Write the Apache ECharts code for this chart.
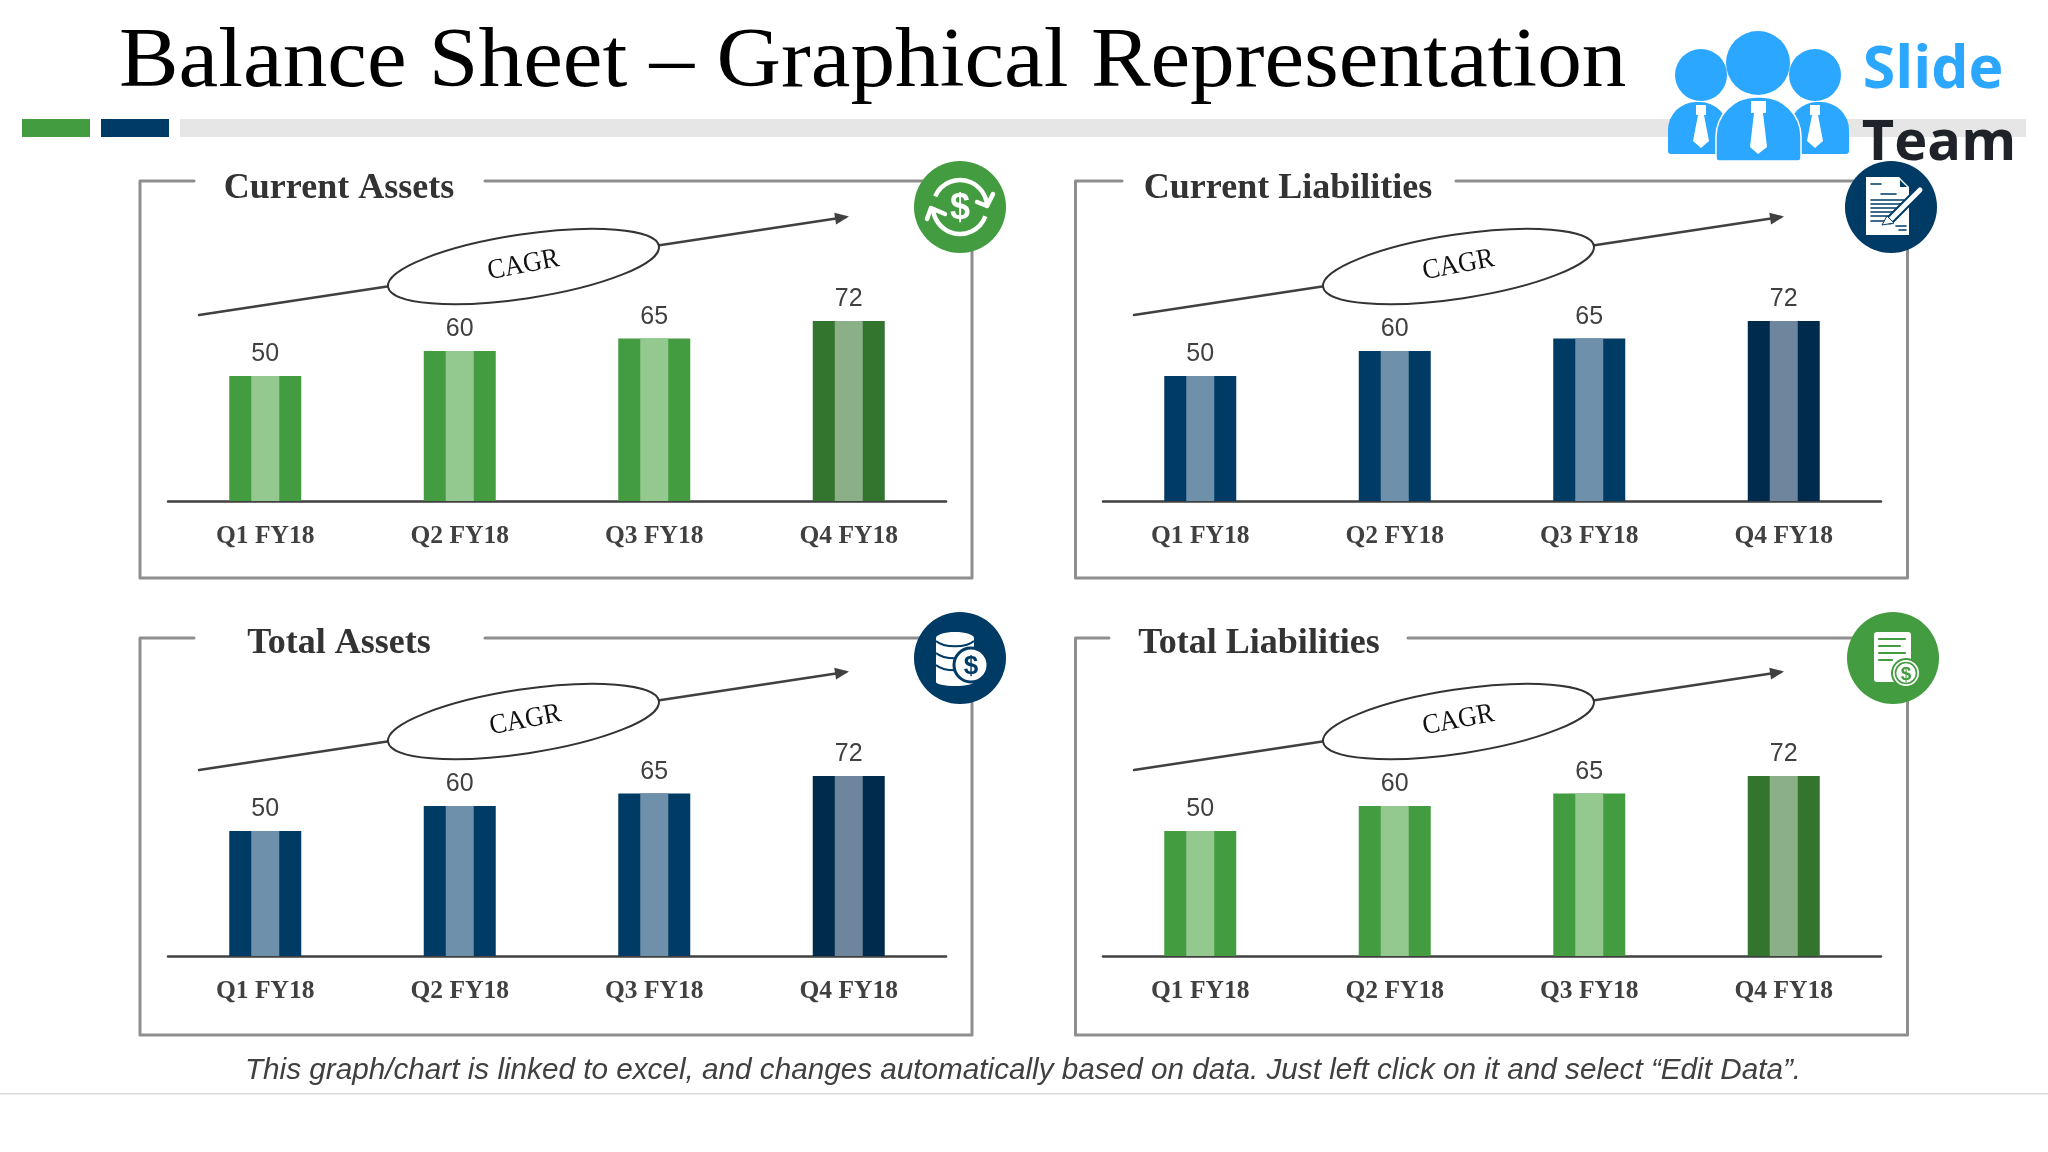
<!DOCTYPE html>
<html>
<head>
<meta charset="utf-8">
<title>Balance Sheet</title>
<script src="https://cdn.jsdelivr.net/npm/echarts@6/dist/echarts.min.js"></script>
<style>
  html, body { margin: 0; padding: 0; background: #fff; }
  #chart { width: 2048px; height: 1152px; }
</style>
</head>
<body>
<div id="chart"></div>
<script>
const quarters = ["Q1 FY18", "Q2 FY18", "Q3 FY18", "Q4 FY18"];
const currentAssets = [50, 60, 65, 72];
const currentLiabilities = [50, 60, 65, 72];
const totalAssets = [50, 60, 65, 72];
const totalLiabilities = [50, 60, 65, 72];
const panelTitles = ["Current Assets", "Current Liabilities", "Total Assets", "Total Liabilities"];

const GREEN = { main: "#439C3F", light: "#93C88F", last: "#33752E", lastLight: "#8BB087" };
const NAVY = { main: "#003B66", light: "#6E90AA", last: "#012B4C", lastLight: "#6D869E" };
const INK = "#404040";
const SERIF = "Liberation Serif";
const SANS = "Liberation Sans";

const panelSeries = [currentAssets, currentLiabilities, totalAssets, totalLiabilities];
const panelColors = [GREEN, NAVY, NAVY, GREEN];
const dx = [0, 935, 0, 935];
const dy = [0, 0, 455, 455];
const frameY = [181, 181, 638, 638];
const frameH = 397;
const gaps = [[194, 485], [1122, 1456], [194, 485], [1109, 1408]];
const titleX = [339, 1288, 339, 1259];
const titleY = [207, 207, 662, 662];
const cagrShift = [0, 0, 2, 0];

const chart = echarts.init(document.getElementById("chart"));

function text(str, x, y, font, fill, extra) {
  return Object.assign({
    type: "text", x, y,
    style: { text: str, font, fill, align: "center", verticalAlign: "bottom", textAlign: "center", textVerticalAlign: "bottom" },
  }, extra);
}

function stroke(points, color, width) {
  return { type: "polyline", shape: { points }, style: { stroke: color, lineWidth: width, fill: null, lineCap: "round", lineJoin: "round" } };
}

function frame(i) {
  const l = 140 + (i % 2) * 935.5, r = 972 + (i % 2) * 935.5, t = frameY[i], b = t + frameH;
  return [
    stroke([[gaps[i][0], t], [l, t], [l, b], [r, b], [r, t], [gaps[i][1], t]], "#8E8E90", 3),
  ];
}

function cagr(i) {
  return {
    type: "group", x: dx[i], y: dy[i],
    children: [
      stroke([[199, 315], [846, 217]], INK, 2.5),
      { type: "polygon", x: 849, y: 216.5, rotation: 0.15, shape: { points: [[0, 0], [-14, -6], [-14, 6]] }, style: { fill: INK } },
      { type: "ellipse", x: 523.5, y: 266.5, rotation: 0.15, shape: { cx: 0, cy: 0, rx: 137, ry: 32 }, style: { fill: "#fff", stroke: "#333", lineWidth: 2 } },
      text("CAGR", 526 + cagrShift[i], 279, "28px " + SERIF, "#111", { rotation: 0.19, scaleX: 0.93 }),
    ],
  };
}

function disc(cx, cy, r, fill, line, lw) {
  return { type: "circle", shape: { cx, cy, r }, style: { fill, stroke: line || null, lineWidth: lw || 0 } };
}

function iconSwap(cx, cy) {
  const ring = (a, b) => ({ type: "arc", shape: { cx: 0, cy: 0, r: 27, startAngle: a, endAngle: b, clockwise: true }, style: { stroke: "#fff", lineWidth: 4.5, fill: null } });
  return {
    type: "group", x: cx, y: cy,
    children: [
      disc(0, 0, 46, GREEN.main),
      ring(3.55, 6.2),
      ring(0.35, 3.1),
      stroke([[17, -5], [27, -1], [33, -13]], "#fff", 4.5),
      stroke([[-15, 7], [-29, 1], [-33, 12]], "#fff", 4.5),
      text("$", 0, 20, "bold 36px " + SANS, "#fff"),
    ],
  };
}

function iconContract(cx, cy) {
  const rows = [[-20, -10, -23], [-10, 5, -13], [-20, 13, -7], [-20, 10, -3], [-20, 8, 1], [-20, 6, 5], [-20, 1, 9], [-20, -7, 14], [5, 15, 19], [8, 15, 23]];
  return {
    type: "group", x: cx, y: cy,
    children: [
      disc(0, 0, 46, NAVY.main),
      { type: "polygon", shape: { points: [[-25, -30], [8, -30], [18, -20], [18, 28], [-25, 28]] }, style: { fill: "#fff" } },
      { type: "polygon", shape: { points: [[9, -27], [16, -20], [9, -20]] }, style: { fill: NAVY.main } },
    ].concat(rows.map((r) => stroke([[r[0], r[2]], [r[1], r[2]]], NAVY.main, 1.6))).concat([
      stroke([[-1, 13], [28, -16]], NAVY.main, 9),
      stroke([[0, 12], [29, -17]], "#fff", 5),
      { type: "polygon", shape: { points: [[-4, 9], [3, 16], [-9, 18]] }, style: { fill: "#fff", stroke: NAVY.main, lineWidth: 1 } },
    ]),
  };
}

function iconCoins(cx, cy) {
  const seam = (y) => ({ type: "bezierCurve", shape: { x1: -24, y1: y, x2: 14, y2: y, cpx1: -16, cpy1: y + 7, cpx2: 6, cpy2: y + 7 }, style: { stroke: NAVY.main, lineWidth: 2, fill: null } });
  return {
    type: "group", x: cx, y: cy,
    children: [
      disc(0, 0, 46, NAVY.main),
      { type: "rect", shape: { x: -24, y: -20, width: 38, height: 44 }, style: { fill: "#fff" } },
      { type: "ellipse", shape: { cx: -5, cy: -20, rx: 19, ry: 6 }, style: { fill: "#fff" } },
      { type: "ellipse", shape: { cx: -5, cy: 24, rx: 19, ry: 4 }, style: { fill: "#fff" } },
      seam(-17), seam(-5), seam(7),
      disc(11, 7, 17, "#fff", NAVY.main, 3),
      text("$", 11, 22, "bold 26px " + SANS, NAVY.main),
    ],
  };
}

function iconStatement(cx, cy) {
  const rows = [[-14, 12, -19], [-14, 7, -12], [-14, 12, -5], [-14, -1, 2]];
  return {
    type: "group", x: cx, y: cy,
    children: [
      disc(0, 0, 46, GREEN.main),
      { type: "rect", shape: { x: -19, y: -26, width: 37, height: 50, r: 3 }, style: { fill: "#fff" } },
    ].concat(rows.map((r) => stroke([[r[0], r[2]], [r[1], r[2]]], GREEN.main, 2.2))).concat([
      disc(13, 15, 15, GREEN.main),
      disc(13, 15, 13, "#fff"),
      disc(13, 15, 10.5, "#fff", GREEN.main, 1.6),
      text("$", 13, 26, "bold 19px " + SANS, GREEN.main),
    ]),
  };
}

function logo() {
  const BLUE = "#2CA7FF";
  const body = (x, y, w, h, r, line) => ({ type: "rect", shape: { x, y, width: w, height: h, r: [r, r, 3, 3] }, style: { fill: BLUE, stroke: line || null, lineWidth: line ? 1.5 : 0 } });
  const tie = (points) => ({ type: "polygon", shape: { points }, style: { fill: "#fff" } });
  return [
    disc(1701, 75, 26, BLUE),
    disc(1815, 75, 26, BLUE),
    disc(1758, 63, 32, BLUE),
    body(1668, 102, 60, 52, 28),
    body(1789, 102, 60, 52, 28),
    body(1716, 97, 85, 64, 40, "#fff"),
    tie([[1696, 105], [1706, 105], [1706, 115], [1704, 115], [1709, 141], [1701, 148], [1693, 141], [1698, 115], [1696, 115]]),
    tie([[1810, 105], [1820, 105], [1820, 115], [1818, 115], [1823, 141], [1815, 148], [1807, 141], [1812, 115], [1810, 115]]),
    tie([[1751, 101], [1766, 101], [1766, 113], [1763, 113], [1767, 147], [1758, 154], [1750, 147], [1754, 113], [1751, 113]]),
    text("Slide", 1933, 101, "bold 59px Open Sans", BLUE),
    text("Team", 1939, 172, "bold 56px Open Sans", "#1F2329"),
  ];
}

const grids = [], xAxes = [], yAxes = [], series = [];
panelSeries.forEach((values, i) => {
  const pal = panelColors[i];
  grids.push({ left: 168 + dx[i], width: 778, top: 301 + dy[i], height: 200 });
  yAxes.push({ gridIndex: i, type: "value", min: 0, max: 80, show: false });
  xAxes.push({
    gridIndex: i, type: "category", data: quarters,
    axisLine: { lineStyle: { color: INK, width: 2.5 } },
    axisTick: { show: false },
    axisLabel: { color: INK, fontFamily: SERIF, fontWeight: "bold", fontSize: 25.5, margin: 22 },
  });
  xAxes.push({ gridIndex: i, type: "category", data: quarters, show: false });
  series.push({
    type: "bar", xAxisIndex: i * 2, yAxisIndex: i, data: values, barWidth: 72,
    itemStyle: { color: (p) => (p.dataIndex === 3 ? pal.last : pal.main) },
    label: { show: true, position: "top", distance: 9, color: INK, fontFamily: SANS, fontSize: 25 },
    silent: true, z: 2,
  });
  series.push({
    type: "bar", xAxisIndex: i * 2 + 1, yAxisIndex: i, data: values, barWidth: 28,
    itemStyle: { color: (p) => (p.dataIndex === 3 ? pal.lastLight : pal.light) },
    silent: true, z: 3,
  });
});

const elements = [
  { type: "rect", shape: { x: 22, y: 119, width: 68, height: 18 }, style: { fill: GREEN.main } },
  { type: "rect", shape: { x: 101, y: 119, width: 68, height: 18 }, style: { fill: NAVY.main } },
  { type: "rect", shape: { x: 180, y: 119, width: 1846, height: 18 }, style: { fill: "#E7E6E6" } },
  { type: "rect", shape: { x: 0, y: 1093, width: 2048, height: 1.5 }, style: { fill: "#DCDCDC" } },
]
  .concat(logo())
  .concat(frame(0), frame(1), frame(2), frame(3))
  .concat(panelTitles.map((t, i) => text(t, titleX[i], titleY[i], "bold 36px " + SERIF, "#333")))
  .concat([cagr(0), cagr(1), cagr(2), cagr(3)])
  .concat([iconSwap(960, 207), iconContract(1891, 207), iconCoins(960, 658), iconStatement(1893, 658)])
  .concat([
    {
      type: "text", x: 119, y: 106, scaleX: 1.063,
      style: { text: "Balance Sheet – Graphical Representation", font: "84px " + SERIF, fill: "#000", align: "left", verticalAlign: "bottom" },
    },
    text("This graph/chart is linked to excel, and changes automatically based on data. Just left click on it and select “Edit Data”.",
      1023, 1086, "italic 29.7px " + SANS, INK),
  ]);

chart.setOption({
  animation: false,
  backgroundColor: "#fff",
  grid: grids,
  xAxis: xAxes,
  yAxis: yAxes,
  series,
  graphic: { elements },
});
</script>
</body>
</html>
